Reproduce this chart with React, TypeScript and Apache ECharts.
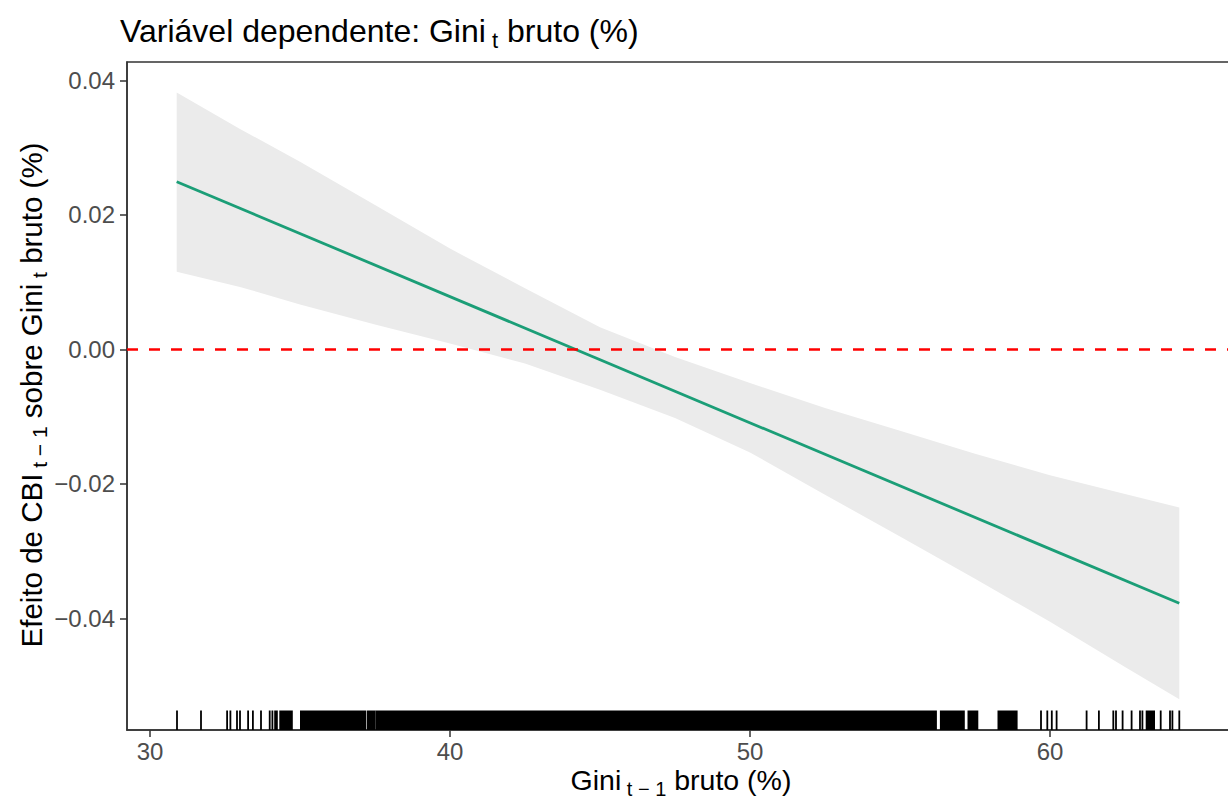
import React, { useEffect, useRef } from "react";
import * as echarts from "echarts";

// ---- data ----
const xTicks = [30, 40, 50, 60];
const yTicks = [-0.04, -0.02, 0, 0.02, 0.04];
const xMin = 29.2333;
const xMax = 66.2;
const yMin = -0.05658;
const yMax = 0.04275;

// marginal effect line (endpoints)
const effectX = [30.89, 64.31];
const effectY = [0.02495, -0.03774];

// confidence band
const bandX = [30.89, 33, 35, 37.5, 40, 42.5, 45, 47.5, 50, 52.5, 55, 57.5, 60, 62.5, 64.31];
const bandUpper = [0.0382, 0.0328, 0.0279, 0.0215, 0.0150, 0.0091, 0.0033, -0.0011, -0.005, -0.0087, -0.0121, -0.0155, -0.0187, -0.0215, -0.0235];
const bandLower = [0.01157, 0.0093, 0.0067, 0.0037, 0.0009, -0.0021, -0.0060, -0.0102, -0.0153, -0.0216, -0.0278, -0.0341, -0.0405, -0.0472, -0.052];

// rug: isolated observations and runs of overlapping observations
const rugSingles = [30.9, 31.7, 32.57, 32.68, 32.9, 33.0, 33.27, 33.43, 33.7, 33.99, 34.08, 34.17, 34.23, 59.7, 59.91, 60.06, 60.22, 61.22, 61.63, 62.11, 62.2, 62.42, 62.72, 63.0, 63.08, 63.69, 64.0, 64.08, 64.31];
const rugBlocksStart = [34.34, 35.03, 37.26, 37.54, 56.36, 57.28, 58.28, 63.22];
const rugBlocksEnd = [34.73, 37.18, 37.48, 56.2, 57.13, 57.58, 58.89, 63.47];

const titleText = ["Variável dependente: Gini", " t", " bruto (%)"];
const xTitleText = ["Gini", " t − 1", " bruto (%)"];
const yTitleText = ["Efeito de CBI", " t − 1", " sobre Gini", " t", " bruto (%)"];

const FONT = "'Liberation Sans', Arial, Helvetica, sans-serif";

function richParts(parts: string[]) {
  return parts.map((p, i) => (i % 2 === 0 ? `{m|${p}}` : `{s|${p}}`)).join("");
}
function richStyles(main: number, sub: number, L: number, l: number) {
  return {
    m: { fontSize: main, fontFamily: FONT, lineHeight: L, verticalAlign: "middle", fill: "#000", color: "#000" },
    s: { fontSize: sub, fontFamily: FONT, lineHeight: l, verticalAlign: "bottom", fill: "#000", color: "#000" },
  };
}

const fmtY = (v: number) => {
  const s = Math.abs(v) < 1e-9 ? "0.00" : v.toFixed(2);
  return s.replace("-", "\u2212");
};

export default function App() {
  const ref = useRef<HTMLDivElement>(null);
  useEffect(() => {
    if (!ref.current) return;
    const chart = echarts.init(ref.current, undefined, { renderer: "svg" });
    const bandData = bandX.map((x, i) => [x, bandUpper[i], bandLower[i]]);
    const rugData = rugSingles.map((x) => [x, yMin]);
    const rugBlockData = rugBlocksStart.map((a, i) => [a, rugBlocksEnd[i]]);
    const option: any = {
      animation: false,
      backgroundColor: "#fff",
      grid: {
        left: 127,
        right: -8,
        top: 62,
        bottom: 74,
        show: true,
        borderColor: "#333",
        borderWidth: 1.5,
        backgroundColor: "transparent",
        containLabel: false,
        outerBoundsMode: "none",
      },
      xAxis: {
        type: "value",
        min: xMin,
        max: xMax,
        axisLine: { show: true, onZero: false, lineStyle: { color: "#333", width: 1.5 } },
        axisTick: { show: true, length: 7, lineStyle: { color: "#333", width: 1.5 }, customValues: xTicks },
        axisLabel: { customValues: xTicks, color: "#4d4d4d", fontSize: 24, fontFamily: FONT, margin: 9, lineHeight: 24 },
        splitLine: { show: false },
      },
      yAxis: {
        type: "value",
        min: yMin,
        max: yMax,
        axisLine: { show: true, onZero: false, lineStyle: { color: "#333", width: 1.5 } },
        axisTick: { show: true, length: 7, lineStyle: { color: "#333", width: 1.5 }, customValues: yTicks },
        axisLabel: { customValues: yTicks, color: "#4d4d4d", fontSize: 24, fontFamily: FONT, margin: 12, formatter: fmtY },
        splitLine: { show: false },
      },
      series: [
        {
          type: "custom",
          name: "band",
          silent: true,
          data: bandData,
          encode: { x: 0, y: [1, 2] },
          renderItem: (params: any, api: any) => {
            if (params.dataIndex !== 0) return null;
            const pts: number[][] = [];
            for (let i = 0; i < bandX.length; i++) pts.push(api.coord([bandX[i], bandUpper[i]]));
            for (let i = bandX.length - 1; i >= 0; i--) pts.push(api.coord([bandX[i], bandLower[i]]));
            return { type: "polygon", shape: { points: pts }, style: { fill: "#ebebeb", stroke: "none" } };
          },
          z: 1,
        },
        {
          type: "line",
          name: "zero",
          data: [],
          markLine: {
            silent: true,
            symbol: ["none", "none"],
            label: { show: false },
            lineStyle: { color: "#ff0000", type: [11, 11], width: 2.6 },
            data: [{ yAxis: 0 }],
          },
          z: 2,
        },
        {
          type: "line",
          name: "effect",
          data: effectX.map((x, i) => [x, effectY[i]]),
          showSymbol: false,
          symbol: "none",
          lineStyle: { color: "#1b9e77", width: 2.8 },
          z: 3,
        },
        {
          type: "custom",
          name: "rug",
          silent: true,
          data: rugData,
          renderItem: (params: any, api: any) => {
            const p = api.coord([api.value(0), yMin]);
            return {
              type: "line",
              shape: { x1: p[0], y1: p[1], x2: p[0], y2: p[1] - 19.5 },
              style: { stroke: "#000", lineWidth: 1.8 },
            };
          },
          z: 4,
        },
        {
          type: "custom",
          name: "rugBlocks",
          silent: true,
          data: rugBlockData,
          encode: { x: [0, 1] },
          renderItem: (params: any, api: any) => {
            const a = api.coord([api.value(0), yMin]);
            const b = api.coord([api.value(1), yMin]);
            return {
              type: "rect",
              shape: { x: a[0] - 0.9, y: a[1] - 19.5, width: b[0] - a[0] + 1.8, height: 19.5 },
              style: { fill: "#000" },
            };
          },
          z: 4,
        },
      ],
      graphic: [
        {
          type: "text",
          x: 120,
          y: 31,
          style: {
            text: richParts(titleText),
            rich: richStyles(32, 22, 40, 23),
            align: "left",
            verticalAlign: "middle",
          },
        },
        {
          type: "text",
          x: 681,
          y: 780,
          style: {
            text: richParts(xTitleText),
            rich: richStyles(28.5, 20, 37, 21),
            align: "center",
            verticalAlign: "middle",
          },
        },
        {
          type: "text",
          x: 31,
          y: 395,
          rotation: Math.PI / 2,
          style: {
            text: richParts(yTitleText),
            rich: richStyles(29.5, 21, 38, 22),
            align: "center",
            verticalAlign: "middle",
          },
        },
      ],
    };
    chart.setOption(option);
    return () => chart.dispose();
  }, []);
  return (
    <div
      ref={ref}
      style={{ position: "absolute", left: 0, top: 0, width: 1228, height: 804, background: "#fff" }}
    />
  );
}
